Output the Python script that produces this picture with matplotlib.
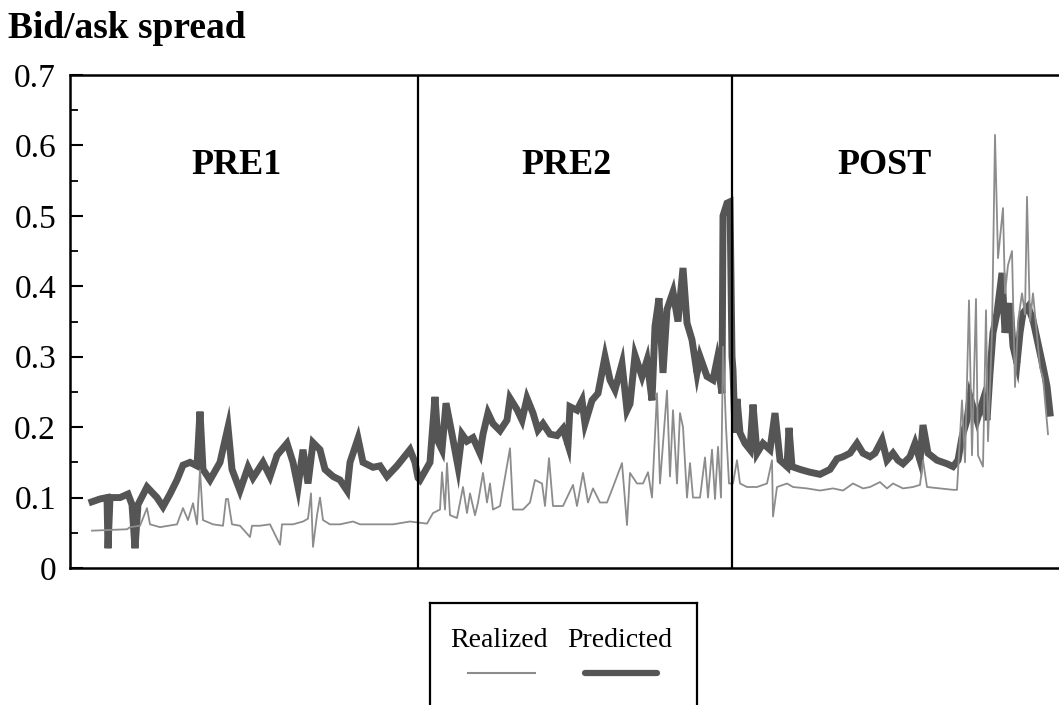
import matplotlib
matplotlib.use("Agg")
import matplotlib.pyplot as plt
from matplotlib.ticker import MultipleLocator

plt.rcParams['font.family'] = ['Liberation Serif', 'DejaVu Serif']

# (day, spread)
pred_pre1 = [(22, .094), (30, .098), (37, .1), (38, .028), (40, .1), (50, .1), (58, .105), (62, .09),
             (65, .028), (68, .09), (77, .115), (87, .1), (93, .087), (100, .105), (107, .125), (113, .146),
             (120, .15), (127, .145), (130, .222), (133, .14), (140, .125), (150, .15), (158, .2), (162, .14),
             (170, .11), (178, .143), (183, .128), (193, .15), (200, .13), (207, .16), (217, .177), (223, .15),
             (228, .115), (233, .168), (238, .12), (243, .178), (250, .168), (255, .14), (263, .13), (270, .125),
             (277, .11), (280, .15), (288, .184), (293, .15), (303, .143), (310, .145), (317, .13), (327, .145),
             (340, .168), (345, .15), (348, .128)]
pred_pre2 = [(350, .125), (360, .15), (365, .243), (368, .18), (372, .168), (376, .234), (382, .19), (388, .144),
             (392, .19), (397, .18), (403, .185), (410, .163), (413, .19), (418, .22), (423, .205), (430, .195),
             (437, .21), (440, .241), (447, .225), (452, .21), (457, .241), (463, .22), (468, .196), (473, .205),
             (480, .19), (487, .188), (493, .198), (498, .175), (500, .229), (507, .224), (512, .238), (515, .205),
             (522, .238), (528, .248), (535, .3), (540, .267), (545, .253), (552, .29), (557, .224), (560, .233),
             (565, .302), (572, .272), (577, .295), (582, .238), (585, .343), (589, .383), (593, .277), (597, .367),
             (603, .392), (608, .35), (613, .426), (617, .348), (622, .324), (627, .277), (630, .3), (637, .272),
             (643, .267), (647, .295), (652, .248), (653, .5), (657, .518), (660, .52), (662, .3)]
pred_post = [(663, .281), (665, .192), (667, .24), (670, .192), (675, .177), (680, .168), (683, .232), (687, .163),
             (693, .177), (700, .168), (705, .22), (710, .153), (717, .144), (719, .199), (722, .144), (730, .14),
             (740, .136), (750, .133), (760, .14), (767, .155), (773, .158), (780, .163), (787, .177), (793, .163),
             (800, .158), (805, .163), (812, .182), (817, .153), (823, .163), (828, .153), (833, .148), (840, .158),
             (845, .177), (850, .153), (853, .203), (858, .163), (867, .153), (877, .148), (883, .144), (888, .153),
             (892, .186), (897, .21), (900, .243), (907, .21), (913, .238), (917, .21), (920, .277), (923, .334),
             (927, .362), (932, .419), (935, .334), (940, .376), (943, .315), (947, .291), (950, .334), (953, .362),
             (958, .371), (963, .352), (968, .319), (973, .286), (977, .258), (980, .22)]

real_pre1 = [(22, .053), (40, .054), (57, .055), (60, .058), (70, .06), (77, .085), (80, .062), (90, .058),
             (107, .062), (113, .085), (118, .068), (123, .092), (127, .062), (130, .139), (133, .068), (143, .062),
             (153, .06), (156, .098), (158, .098), (162, .062), (170, .06), (180, .044), (182, .06), (190, .06),
             (200, .062), (210, .033), (212, .062), (223, .062), (233, .066), (238, .07), (241, .106), (243, .03),
             (247, .075), (250, .1), (253, .068), (260, .062), (270, .062), (283, .066), (290, .062), (307, .062),
             (323, .062), (340, .066)]
real_pre2 = [(357, .063), (363, .078), (370, .083), (372, .136), (375, .083), (377, .149), (380, .075), (387, .071),
             (393, .115), (397, .078), (400, .106), (405, .075), (408, .093), (413, .135), (417, .093), (420, .12),
             (423, .083), (430, .088), (440, .17), (443, .083), (453, .083), (460, .093), (465, .125), (472, .12),
             (475, .088), (479, .156), (483, .088), (493, .088), (503, .118), (507, .088), (513, .135), (518, .093),
             (523, .113), (530, .093), (537, .093), (543, .115), (552, .149), (557, .061), (560, .135), (567, .12),
             (573, .12), (578, .136), (582, .1), (587, .248), (590, .12), (597, .252), (600, .13), (603, .224),
             (607, .12), (610, .22), (613, .2), (617, .1), (620, .149), (623, .1), (630, .1), (635, .157),
             (638, .1), (642, .168), (645, .098), (648, .172), (651, .1), (653, .314), (656, .2), (659, .12)]
real_post = [(663, .12), (667, .153), (670, .12), (677, .115), (687, .115), (697, .12), (702, .153), (703, .073),
             (707, .115), (717, .12), (723, .115), (737, .113), (750, .11), (763, .113), (773, .11), (783, .12),
             (793, .113), (800, .115), (810, .122), (817, .113), (823, .12), (833, .113), (843, .115), (850, .118),
             (853, .153), (857, .115), (870, .113), (883, .111), (887, .111), (892, .238), (895, .15), (899, .38),
             (902, .16), (906, .382), (908, .16), (913, .144), (916, .366), (918, .18), (922, .334), (925, .615),
             (928, .44), (933, .511), (935, .39), (938, .43), (942, .45), (945, .257), (948, .35), (952, .39),
             (955, .36), (957, .527), (960, .35), (963, .39), (967, .33), (970, .285), (973, .27), (978, .19)]

period_names = ["PRE1", "PRE2", "POST"]
period_centers = [167, 496, 815]
period_breaks = [348, 662]

predicted = pred_pre1 + pred_pre2 + pred_post
realized = real_pre1 + real_pre2 + real_post

fig = plt.figure(figsize=(10.59, 7.05), dpi=100)
ax = fig.add_axes([70 / 1059, 137 / 705, 989 / 1059, 493 / 705])

ax.plot([d for d, v in predicted], [v for d, v in predicted], color="#555555", lw=5,
        solid_joinstyle="miter", zorder=2)
ax.plot([d for d, v in realized], [v for d, v in realized], color="#8c8c8c", lw=1.3, zorder=3)

for b in period_breaks:
    ax.axvline(b, color="black", lw=1.6, zorder=4)
for name, c in zip(period_names, period_centers):
    ax.text(c, 0.572, name, ha="center", va="center", fontsize=26, fontweight="bold")

ax.set_xlim(0, 989)
ax.set_ylim(0, 0.7)
ax.set_xticks([])
ax.yaxis.set_major_locator(MultipleLocator(0.1))
ax.yaxis.set_minor_locator(MultipleLocator(0.05))
ax.set_yticks([0, .1, .2, .3, .4, .5, .6, .7])
ax.set_yticklabels(["0", "0.1", "0.2", "0.3", "0.4", "0.5", "0.6", "0.7"])
ax.tick_params(axis="y", which="major", direction="in", length=9, width=1.5, labelsize=24, pad=10)
ax.tick_params(axis="y", which="minor", direction="in", length=6, width=1.3)
ax.spines["right"].set_visible(False)
for s in ["left", "top", "bottom"]:
    ax.spines[s].set_linewidth(1.8)

fig.text(8 / 1059, 1 - 28 / 705, "Bid/ask spread", fontsize=27, fontweight="bold", va="center", ha="left")

# legend box, its bottom runs off the page
lax = fig.add_axes([430 / 1059, -0.02, 267 / 1059, (705 - 603) / 705 + 0.02])
lax.set_xlim(0, 267)
lax.set_ylim(-14, 102)
lax.set_xticks([])
lax.set_yticks([])
lax.spines["bottom"].set_visible(False)
for s in ["left", "top", "right"]:
    lax.spines[s].set_linewidth(1.6)
lax.text(69, 65, "Realized", ha="center", va="center", fontsize=20)
lax.text(190, 65, "Predicted", ha="center", va="center", fontsize=20)
lax.plot([38, 105], [32, 32], color="#8c8c8c", lw=1.5)
lax.plot([155, 227], [32, 32], color="#555555", lw=4.5, solid_capstyle="round")

fig.savefig("out.png", dpi=100)
